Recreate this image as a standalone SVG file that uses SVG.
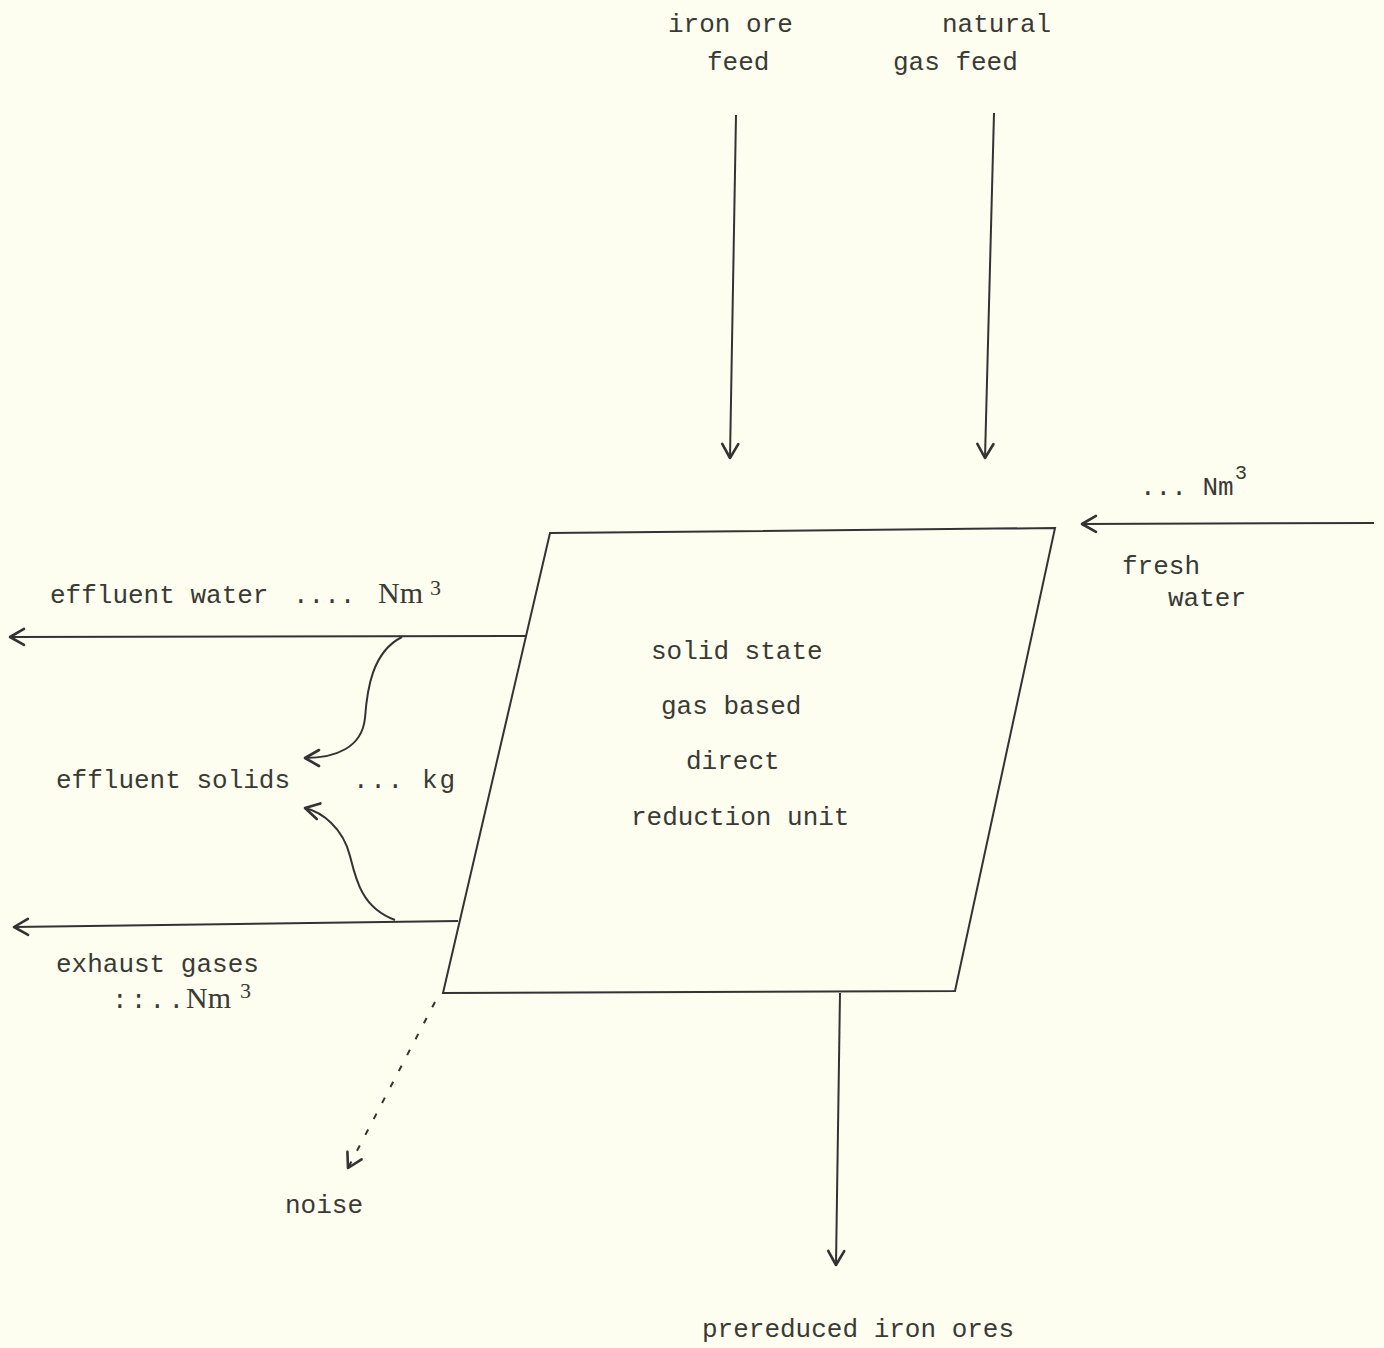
<svg xmlns="http://www.w3.org/2000/svg" width="1384" height="1348" viewBox="0 0 1384 1348">
<defs>
<marker id="arr" viewBox="0 0 20 20" refX="18" refY="10" markerWidth="20" markerHeight="20" markerUnits="userSpaceOnUse" orient="auto">
<path d="M4,2 L18,10 L4,18" fill="none" stroke="#333" stroke-width="2.6" stroke-linecap="round" stroke-linejoin="round"/>
</marker>
</defs>
<style>
.t{font-family:"Liberation Mono","DejaVu Sans Mono",monospace;font-size:26px;fill:#3a3a35}
.s{font-family:"Liberation Mono","DejaVu Sans Mono",monospace;font-size:20px;fill:#3a3a35}
.r{font-family:"Liberation Serif","Times New Roman",serif;font-size:30px;fill:#3a3a35}
.rs{font-family:"Liberation Serif","Times New Roman",serif;font-size:22px;fill:#3a3a35}
.l{fill:none;stroke:#333;stroke-width:2}
</style>
<rect width="1384" height="1348" fill="#fdfdf0"/>
<g id="unit">
<path class="l" d="M550,533 L1055,528 L955,991 L443,993 Z"/>
<text class="t" x="651" y="659">solid state</text>
<text class="t" x="661" y="714">gas based</text>
<text class="t" x="686" y="769">direct</text>
<text class="t" x="631" y="825">reduction unit</text>
</g>
<g id="iron-ore-feed"><text class="t" x="668" y="32">iron ore</text><text class="t" x="707" y="70">feed</text></g>
<g id="natural-gas-feed"><text class="t" x="942" y="32">natural</text><text class="t" x="893" y="70">gas feed</text></g>
<g id="fresh-water"><text class="t" x="1140" y="495">... Nm</text><text class="s" x="1235" y="479">3</text><text class="t" x="1122" y="574">fresh</text><text class="t" x="1168" y="606">water</text></g>
<g id="effluent-water"><text class="t" x="50" y="603">effluent water</text><text class="t" x="293" y="603">....</text><text class="r" x="378" y="603">Nm</text><text class="rs" x="430" y="595">3</text></g>
<g id="effluent-solids"><text class="t" x="56" y="788">effluent solids</text><text class="t" x="353" y="788" textLength="102">... kg</text></g>
<g id="exhaust-gases"><text class="t" x="56" y="972">exhaust gases</text><text class="t" x="112" y="1008" textLength="72">::..</text><text class="r" x="186" y="1008">Nm</text><text class="rs" x="240" y="998" font-size="21">3</text></g>
<g id="noise"><text class="t" x="285" y="1213">noise</text></g>
<g id="prereduced"><text class="t" x="702" y="1337">prereduced iron ores</text></g>
<g id="connectors">
<path class="l" d="M736,115 L730,458" marker-end="url(#arr)"/>
<path class="l" d="M994,113 L985,458" marker-end="url(#arr)"/>
<path class="l" d="M1374,523 L1082,524" marker-end="url(#arr)"/>
<path class="l" d="M526,636 L10,637" marker-end="url(#arr)"/>
<path class="l" d="M458,921 L14,927" marker-end="url(#arr)"/>
<path class="l" d="M840,993 L836,1265" marker-end="url(#arr)"/>
<path class="l" d="M435,1002 L348,1168" stroke-dasharray="6,12" stroke-width="3" marker-end="url(#arr)"/>
<path class="l" d="M402,637 C372,652 367,690 365,718 C362,748 335,758 305,758" stroke-width="2.8" marker-end="url(#arr)"/>
<path class="l" d="M395,920 C362,908 356,880 350,856 C343,828 322,812 305,808" stroke-width="2.8" marker-end="url(#arr)"/>
</g>
</svg>
